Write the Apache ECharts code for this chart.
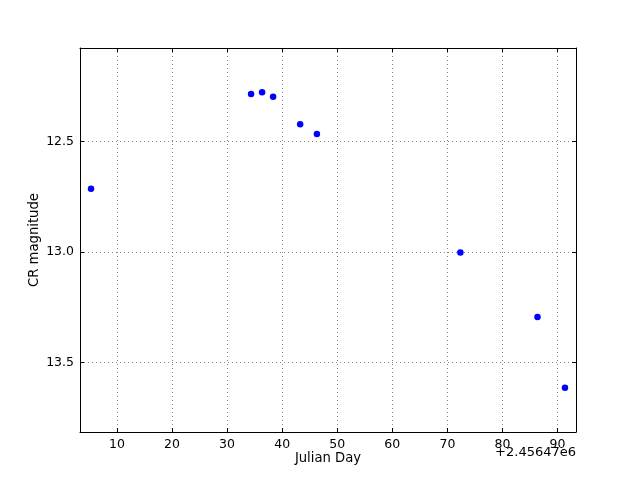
<!DOCTYPE html>
<html><head><meta charset="utf-8">
<script src="https://cdn.jsdelivr.net/npm/echarts@6/dist/echarts.min.js"></script>
<style>html,body{margin:0;padding:0;background:#fff}#c{width:640px;height:480px}</style>
</head><body><div id="c"></div>
<script>
const julianDay = [5.3, 34.36, 36.36, 38.36, 43.27, 46.31, 72.36, 86.36, 91.35];
const crMag = [12.714, 12.285, 12.277, 12.298, 12.422, 12.466, 13.003, 13.295, 13.615];
const xTicks = [10, 20, 30, 40, 50, 60, 70, 80, 90];
const yTicks = [12.5, 13.0, 13.5];
const xOffsetText = '+2.45647e6';

const font = 'DejaVu Sans';
const split = {show: true, lineStyle: {color: '#000', width: 0.8, type: [1, 3], opacity: 0.6}};
function xAx(pos, labels) {
  return {
    type: 'value', position: pos, min: 3.3, max: 93.35,
    axisLine: {show: true, onZero: false, lineStyle: {color: '#000', width: 1}},
    axisTick: {show: true, inside: true, length: 4, customValues: xTicks, lineStyle: {color: '#000'}},
    axisLabel: {show: labels, customValues: xTicks, color: '#000', fontFamily: font, fontSize: 12.5, margin: 6},
    splitLine: labels ? split : {show: false},
    name: labels ? 'Julian Day' : '', nameLocation: 'middle', nameGap: 20, nameMoveOverlap: false,
    nameTextStyle: {color: '#000', fontFamily: font, fontSize: 13.2}
  };
}
function yAx(pos, labels) {
  return {
    type: 'value', position: pos, min: 12.077, max: 13.815, inverse: true,
    axisLine: {show: true, onZero: false, lineStyle: {color: '#000', width: 1}},
    axisTick: {show: true, inside: true, length: 4, customValues: yTicks, lineStyle: {color: '#000'}},
    axisLabel: {show: labels, customValues: yTicks, color: '#000', fontFamily: font, fontSize: 12.5, margin: 6,
      formatter: v => v.toFixed(1)},
    splitLine: labels ? split : {show: false},
    name: labels ? 'CR magnitude' : '', nameLocation: 'middle', nameGap: 39, nameRotate: 90, nameMoveOverlap: false,
    nameTextStyle: {color: '#000', fontFamily: font, fontSize: 13.2}
  };
}
const chart = echarts.init(document.getElementById('c'), null, {renderer: 'canvas'});
chart.setOption({
  animation: false,
  backgroundColor: '#fff',
  grid: {left: 80, right: 64, top: 48, bottom: 48, containLabel: false},
  xAxis: [xAx('bottom', true), xAx('top', false)],
  yAxis: [yAx('left', true), yAx('right', false)],
  graphic: [{type: 'text', right: 64, top: 446,
    style: {text: xOffsetText, fill: '#000', font: '13px "DejaVu Sans"', textAlign: 'right'}}],
  series: [{
    type: 'scatter', xAxisIndex: 0, yAxisIndex: 0, symbolSize: 6.5,
    itemStyle: {color: '#0000ff', opacity: 1},
    data: julianDay.map((x, i) => [x, crMag[i]])
  }]
});
</script></body></html>
